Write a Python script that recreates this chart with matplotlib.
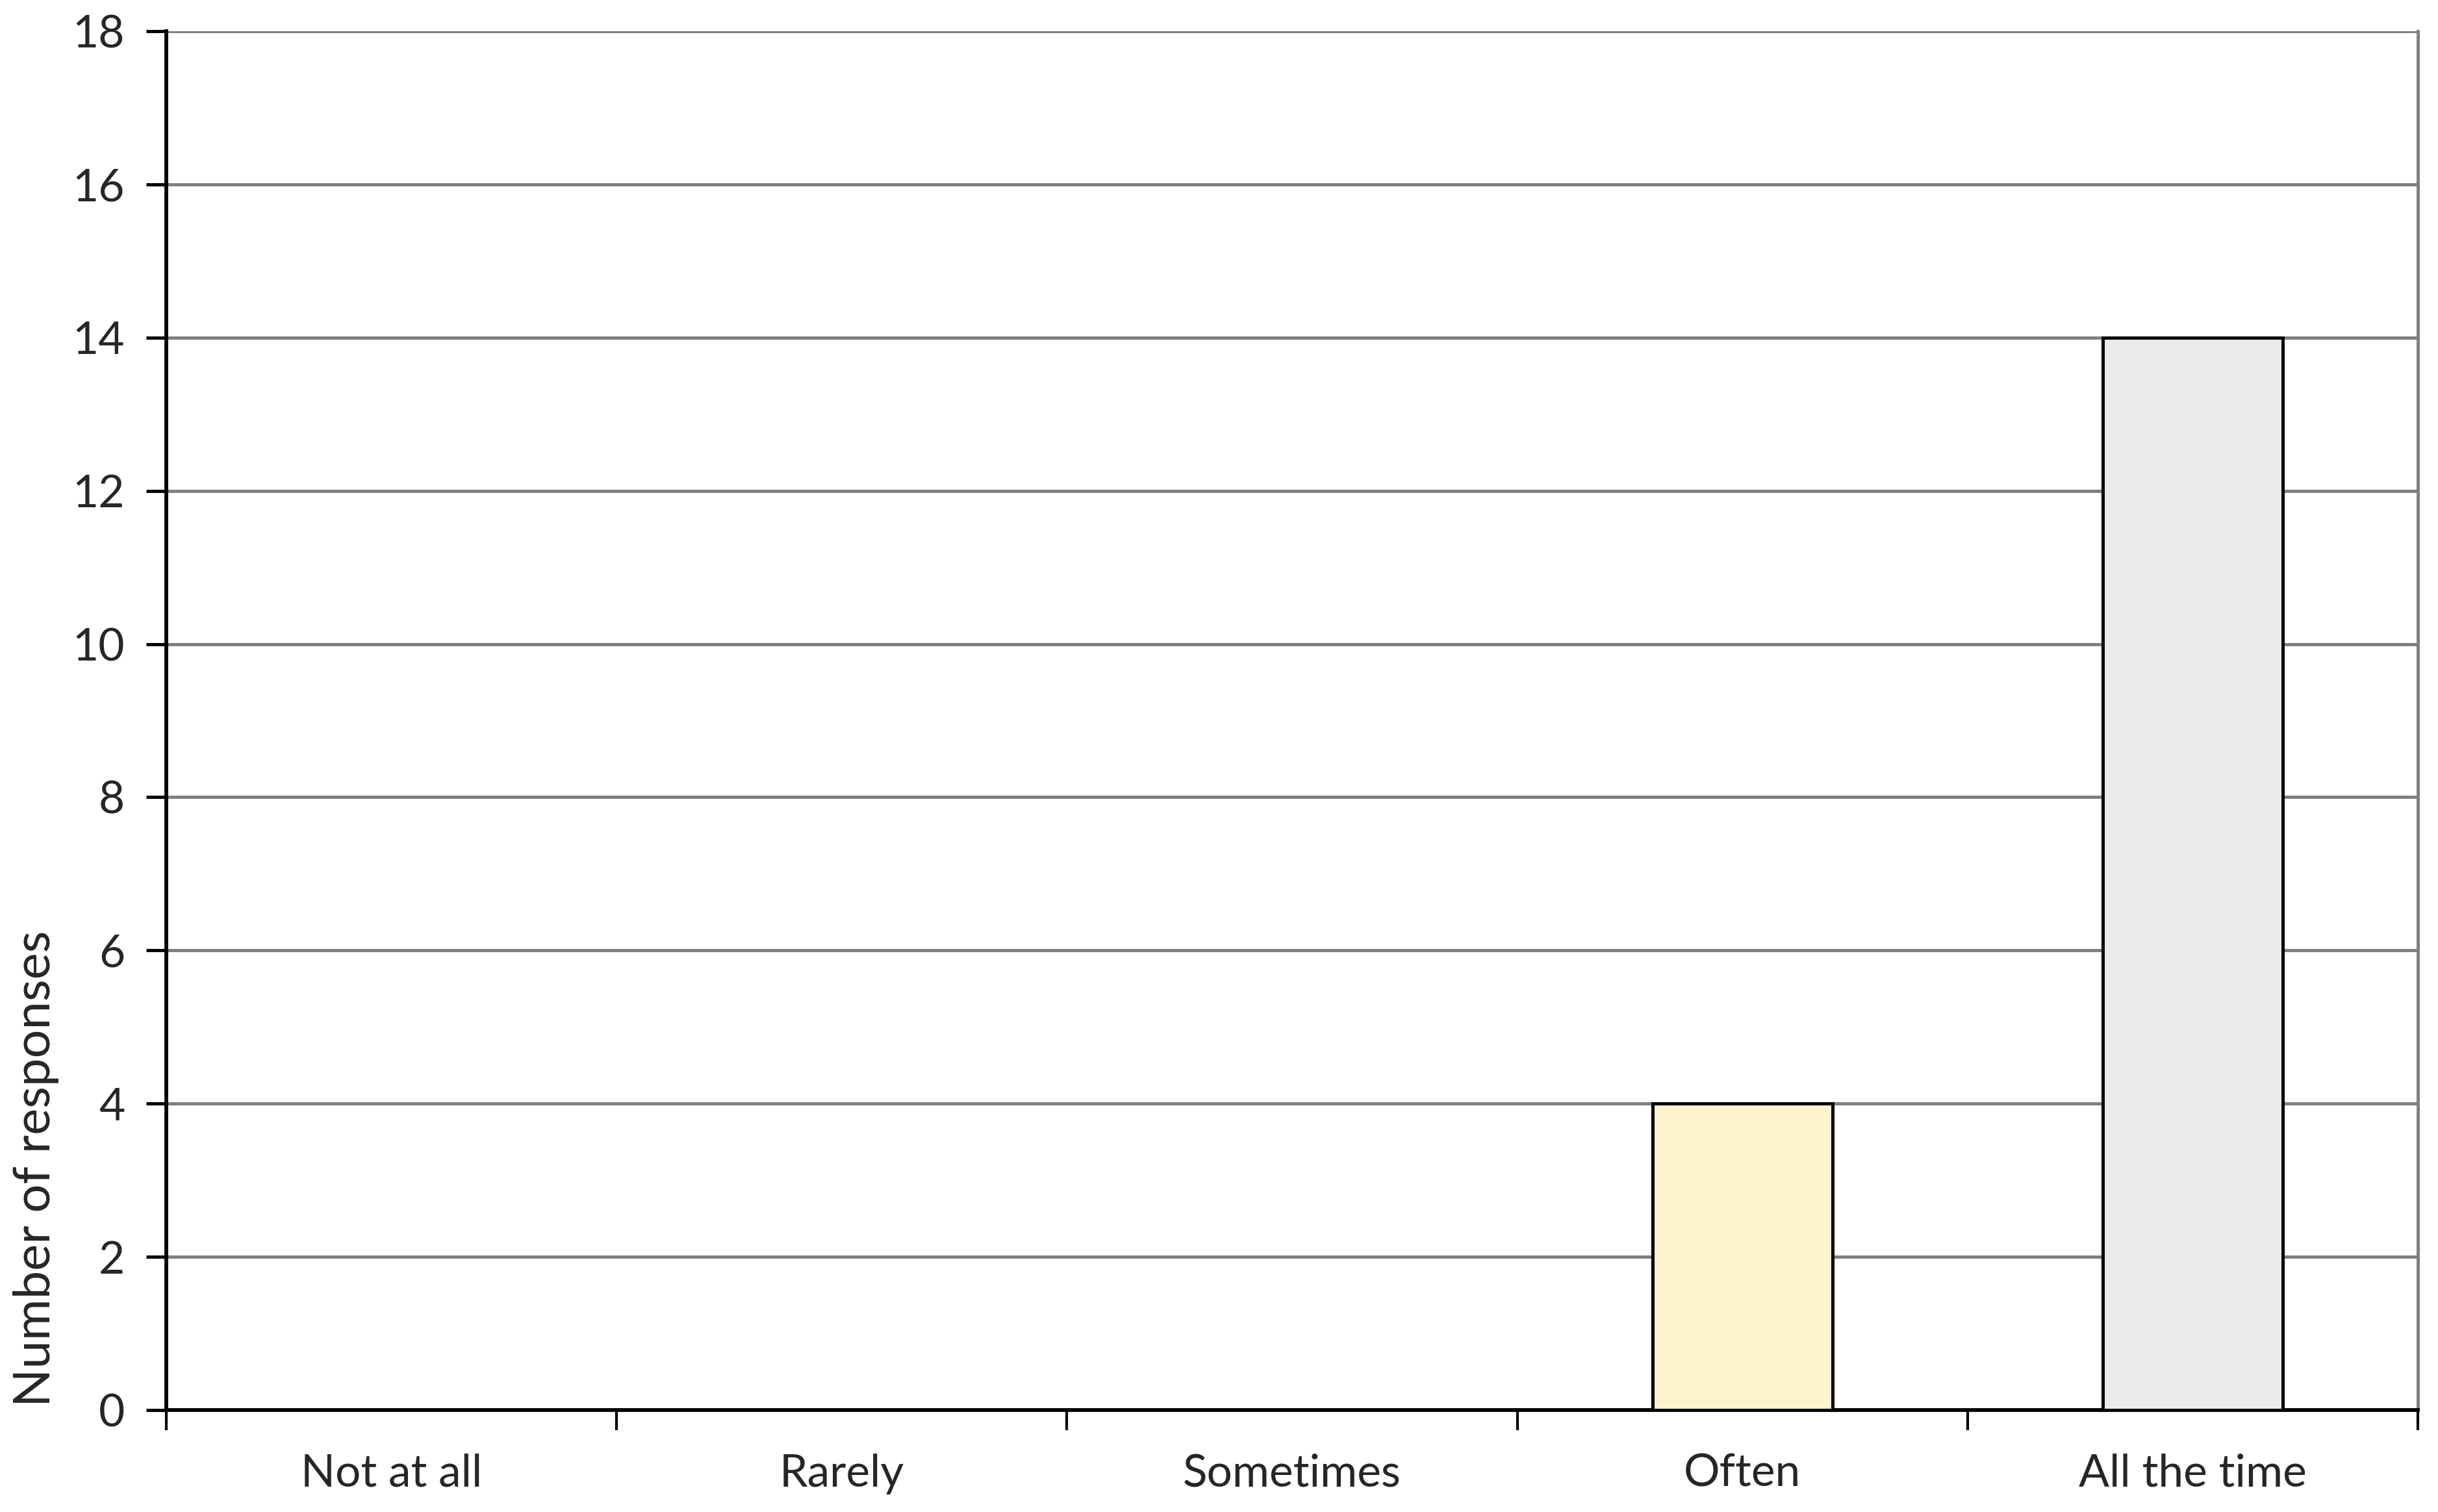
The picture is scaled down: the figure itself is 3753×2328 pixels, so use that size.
import matplotlib
matplotlib.use("Agg")
import matplotlib.pyplot as plt
import numpy as np

categories = ["Not at all", "Rarely", "Sometimes", "Often", "All the time"]
values = [0, 0, 0, 4, 14]
bar_colors = ["#FFFFFF", "#FFFFFF", "#FFFFFF", "#FFF2CF", "#EBEBEB"]
y_ticks = [0, 2, 4, 6, 8, 10, 12, 14, 16, 18]

plt.rcParams['font.family'] = ['Lato', 'DejaVu Sans']

W, H = 3753, 2328
dpi = 100
fig = plt.figure(figsize=(W / dpi, H / dpi), dpi=dpi)
left, right, top, bottom = 256, 3722, 48, 2171
ax = fig.add_axes([left / W, 1 - bottom / H, (right - left) / W, (bottom - top) / H])

x = np.arange(len(categories))
for xi, v, c in zip(x, values, bar_colors):
    if v > 0:
        ax.bar(xi, v, width=0.4, color=c, edgecolor="black", linewidth=3.6, zorder=3)

ax.set_xlim(-0.5, len(categories) - 0.5)
ax.set_ylim(0, 18)
ax.set_yticks(y_ticks)
ax.set_yticklabels([str(t) for t in y_ticks])
ax.yaxis.grid(True, color="#808080", linewidth=3.6, zorder=0)
ax.set_axisbelow(True)

ax.set_xticks(x)
ax.set_xticklabels(categories)
ax.set_xticks(np.arange(-0.5, len(categories)), minor=True)
ax.tick_params(axis="x", which="major", length=0, pad=48, labelsize=50, labelcolor="#262626")
ax.tick_params(axis="x", which="minor", length=22, width=3, color="black", direction="out")
ax.tick_params(axis="y", which="major", length=22, width=3.6, color="black", direction="out",
               pad=24, labelsize=50, labelcolor="#262626")

for s in ["left", "bottom"]:
    ax.spines[s].set_color("black")
    ax.spines[s].set_linewidth(4.2)
ax.spines["right"].set_color("#808080")
ax.spines["right"].set_linewidth(3.6)
ax.spines["top"].set_visible(False)

ax.set_ylabel("Number of responses", fontsize=56, color="#262626")
ax.yaxis.set_label_coords(-0.0476, 0.175)

fig.savefig("out.png", dpi=dpi, facecolor="white")
